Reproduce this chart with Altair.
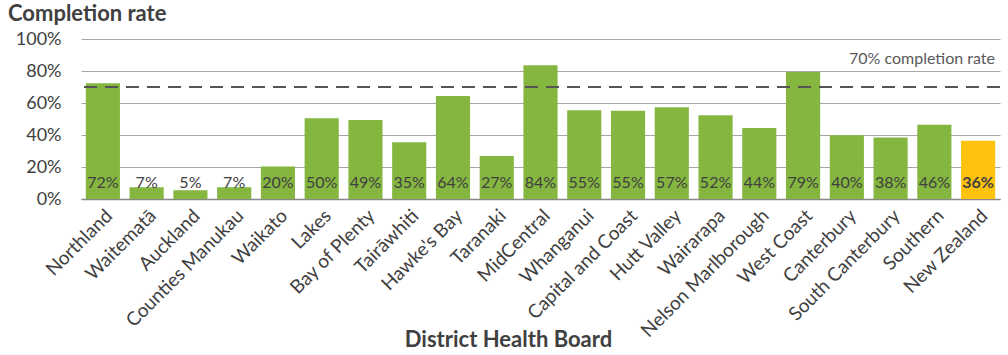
import altair as alt
import pandas as pd

boards = ["Northland", "Waitematā", "Auckland", "Counties Manukau", "Waikato", "Lakes",
          "Bay of Plenty", "Tairāwhiti", "Hawke's Bay", "Taranaki", "MidCentral", "Whanganui",
          "Capital and Coast", "Hutt Valley", "Wairarapa", "Nelson Marlborough", "West Coast",
          "Canterbury", "South Canterbury", "Southern", "New Zealand"]
rates = [72.4, 7.4, 5.4, 7.4, 20.3, 50.4, 49.4, 35.4, 64.4, 26.8, 83.6, 55.4,
         55.2, 57.4, 52.4, 44.4, 79.4, 39.8, 38.4, 46.4, 36.4]
labels = ["72%", "7%", "5%", "7%", "20%", "50%", "49%", "35%", "64%", "27%", "84%", "55%",
          "55%", "57%", "52%", "44%", "79%", "40%", "38%", "46%", "36%"]
groups = ["DHB"] * 20 + ["NZ"]
y_ticks = [0, 20, 40, 60, 80, 100]
target = 70
target_label = "70% completion rate"

df = pd.DataFrame({"board": boards, "rate": rates, "label": labels, "group": groups})

FONT = "Lato"
TXT = "#404040"
yscale = alt.Scale(domain=[0, 100])
yaxis = alt.Axis(values=y_ticks, tickCount=6, labelExpr="datum.value + '%'",
                 labelFontSize=18, labelColor=TXT, labelFont=FONT, ticks=False,
                 domain=False, labelPadding=20, labelOverlap=False,
                 gridColor="#a6a6a6", gridWidth=1, title=None)

x = alt.X("board:N", sort=boards, title="District Health Board",
          scale=alt.Scale(paddingInner=0.22, paddingOuter=0.11),
          axis=alt.Axis(labelAngle=-45, labelFontSize=19, labelColor=TXT, labelFont=FONT,
                        ticks=False, domainColor="#888888", domainWidth=1.5,
                        labelPadding=7, labelOverlap=False, titleFont=FONT, titleFontSize=22,
                        titleFontWeight="bold", titleColor=TXT, titleX=427, titleY=147,
                        titleBaseline="alphabetic"))

bars = alt.Chart(df).mark_bar().encode(
    x=x,
    y=alt.Y("rate:Q", scale=yscale, axis=yaxis, title=None),
    color=alt.Color("group:N", scale=alt.Scale(domain=["DHB", "NZ"],
                                               range=["#84b640", "#ffc20e"]), legend=None),
)

text_dhb = alt.Chart(df).transform_filter(alt.datum.group == "DHB").mark_text(
    baseline="bottom", dy=-8, fontSize=16, font=FONT, color=TXT).encode(
    x=alt.X("board:N", sort=boards),
    y=alt.datum(0, scale=yscale, axis=yaxis),
    text="label:N",
)
text_nz = alt.Chart(df).transform_filter(alt.datum.group == "NZ").mark_text(
    baseline="bottom", dy=-8, fontSize=16, font=FONT, color=TXT, fontWeight="bold").encode(
    x=alt.X("board:N", sort=boards),
    y=alt.datum(0, scale=yscale, axis=yaxis),
    text="label:N",
)

rule_df = pd.DataFrame({"y": [target], "t": [target_label]})
rule = alt.Chart(rule_df).mark_rule(color="#555555", strokeWidth=2, strokeDash=[13, 8]).encode(
    y=alt.Y("y:Q", scale=yscale, axis=yaxis, title=None))
rule_text = alt.Chart(rule_df).mark_text(align="right", baseline="alphabetic", fontSize=16,
                                         font=FONT, color="#595959", dy=-23).encode(
    x=alt.value(914), y=alt.Y("y:Q", scale=yscale, axis=yaxis, title=None), text="t:N")

chart = alt.layer(bars, text_dhb, text_nz, rule, rule_text).properties(
    width=919, height=160,
    title=alt.TitleParams("Completion rate", anchor="start", frame="group", dx=-73,
                          fontSize=22, font=FONT, fontWeight="bold", color=TXT, offset=4),
    padding={"left": 81, "top": 39, "right": 8, "bottom": 156},
    autosize=alt.AutoSizeParams(type="none"),
).configure_view(stroke=None)

chart.save("out.html", embed_options={"renderer": "svg", "actions": False})
